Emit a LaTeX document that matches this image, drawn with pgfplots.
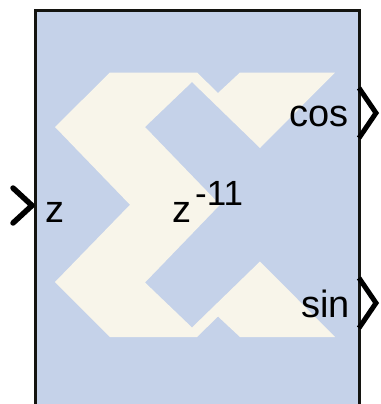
\documentclass[border=0pt]{standalone}
\usepackage{pgfplots}
\pgfplotsset{compat=1.18}
\usepackage{fontspec}
\setmainfont{Liberation Sans}
\definecolor{boxblue}{HTML}{C5D2E9}
\definecolor{cream}{HTML}{F8F5EA}
\definecolor{edge}{HTML}{141410}
\begin{document}
\begin{tikzpicture}
\begin{axis}[width=380pt, height=404pt, scale only axis,
  xmin=0, xmax=380, ymin=0, ymax=404, y dir=reverse,
  hide axis, clip=true]
% background
\addplot[draw=none, fill=white] coordinates {(0,0) (380,0) (380,404) (0,404)} -- cycle;
% block body
\addplot[draw=none, fill=boxblue] coordinates {(35,11) (359,11) (359,405) (35,405)} -- cycle;
% logo
\addplot[draw=none, fill=cream] coordinates {
 (110,72.5) (197,72.5) (218,93) (240,72.5) (335,72.5) (260,148) (192,82) (145,127)
 (220,204.75)
 (145,282.5) (192,327.5) (260,261.5) (335,337) (240,337) (218,316.5) (197,337) (110,337)
 (55,282) (130,204.75) (55,127)} -- cycle;
% border
\addplot[edge, line width=3pt, line join=miter] coordinates {(35,406) (35,11) (359,11) (359,406)};
% ports
\addplot[black, line width=5.5pt, line cap=round, line join=round] coordinates {(13,188) (32,205.5) (13,223)};
\addplot[black, line width=5pt, line join=miter] coordinates {(359,88) (376,113) (359,138)};
\addplot[black, line width=5pt, line join=miter] coordinates {(359,278) (376,303) (359,328)};
% texts
\node[anchor=base west, inner sep=0pt, font=\fontsize{38}{40}\selectfont] at (axis cs:45,222) {z};
\node[anchor=base west, inner sep=0pt, font=\fontsize{38}{40}\selectfont] at (axis cs:289,126) {cos};
\node[anchor=base west, inner sep=0pt, font=\fontsize{38}{40}\selectfont] at (axis cs:301,317) {sin};
\node[anchor=base west, inner sep=0pt, font=\fontsize{38}{40}\selectfont] at (axis cs:172,222) {z};
\node[anchor=base west, inner sep=0pt, font=\fontsize{35}{40}\selectfont] at (axis cs:195,205) {-11};
\end{axis}
\end{tikzpicture}
\end{document}
